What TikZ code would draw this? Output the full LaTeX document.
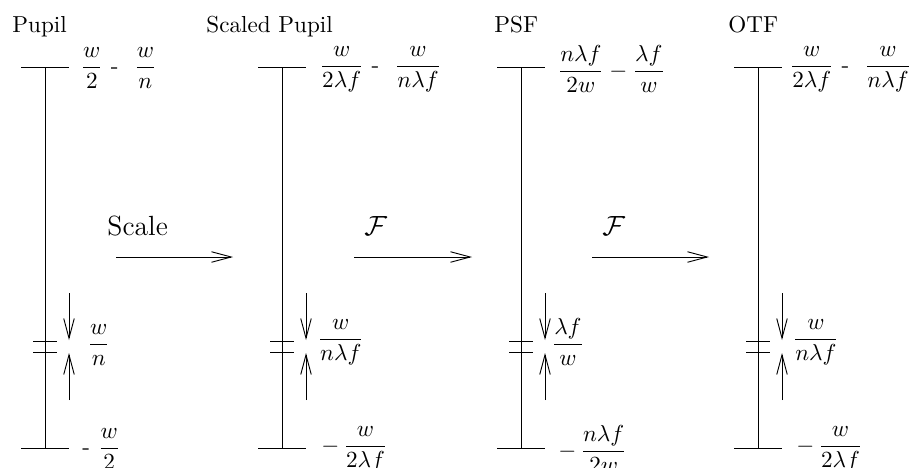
\documentclass[tikz,border=0pt]{standalone}
\usepackage{amsmath}
\usetikzlibrary{arrows.meta}
\tikzset{
  stick/.style={-{Straight Barb[length=3mm,width=1.6mm]}},
  lbl/.style={anchor=base west, inner sep=0pt},
}
\begin{document}
\begin{tikzpicture}[x=0.0152cm, y=-0.0152cm]
\useasboundingbox (0,0) rectangle (919,467);
% the four sample grids
\foreach \n/\x in {pupil/45, scaled/282, psf/521, otf/758} {
  \coordinate (\n-top) at (\x,67);
  \coordinate (\n-bot) at (\x,448);
  \coordinate (\n-da) at ({\x+24},293);
  \coordinate (\n-db) at ({\x+24},340);
  \coordinate (\n-ua) at ({\x+24},400);
  \coordinate (\n-ub) at ({\x+24},353);
  \draw (\n-top) -- (\n-bot);
  \draw ({\x-24},67) -- ({\x+24},67);
  \draw ({\x-24},448) -- ({\x+24},448);
  \draw ({\x-12},341) -- ({\x+12},341);
  \draw ({\x-12},352) -- ({\x+12},352);
  \draw[stick] (\n-da) -- (\n-db);
  \draw[stick] (\n-ua) -- (\n-ub);
}
\node[lbl] (t-pupil) at (12,32) {Pupil};
\node[lbl] (t-scaled) at (206,32) {Scaled Pupil};
\node[lbl] (t-psf) at (494,32) {PSF};
\node[lbl] (t-otf) at (728,32) {OTF};
% upper limits
\node[lbl] (u-pupil) at (80,73) {$\dfrac{w}{2}$ -~~$\dfrac{w}{n}$};
\node[lbl] (u-scaled) at (319,72) {$\dfrac{w}{2\lambda f}$ -~~$\dfrac{w}{n\lambda f}$};
\node[lbl] (u-psf) at (557,77) {$\dfrac{n\lambda f}{2w} - \dfrac{\lambda f}{w}$};
\node[lbl] (u-otf) at (789,72) {$\dfrac{w}{2\lambda f}$ -~~$\dfrac{w}{n\lambda f}$};
% spacing
\node[lbl] (s-pupil) at (87,350) {$\dfrac{w}{n}$};
\node[lbl] (s-scaled) at (317,345) {$\dfrac{w}{n\lambda f}$};
\node[lbl] (s-psf) at (551,350) {$\dfrac{\lambda f}{w}$};
\node[lbl] (s-otf) at (792,345) {$\dfrac{w}{n\lambda f}$};
% lower limits
\node[lbl] (l-pupil) at (82,454) {-~$\dfrac{w}{2}$};
\node[lbl] (l-scaled) at (321,452) {$-\,\dfrac{w}{2\lambda f}$};
\node[lbl] (l-psf) at (558,457) {$-\,\dfrac{n\lambda f}{2w}$};
\node[lbl] (l-otf) at (796,452) {$-\,\dfrac{w}{2\lambda f}$};
% transforms
\coordinate (a1) at (116,257);
\coordinate (b1) at (233,257);
\coordinate (a2) at (354,257);
\coordinate (b2) at (472,257);
\coordinate (a3) at (592,257);
\coordinate (b3) at (709,257);
\draw[stick] (a1) -- (b1);
\draw[stick] (a2) -- (b2);
\draw[stick] (a3) -- (b3);
\node[lbl, font=\large] (scale) at (107,235) {Scale};
\node[lbl, font=\large] (ft1) at (364,235) {$\mathcal{F}$};
\node[lbl, font=\large] (ft2) at (602,235) {$\mathcal{F}$};
\end{tikzpicture}
\end{document}
